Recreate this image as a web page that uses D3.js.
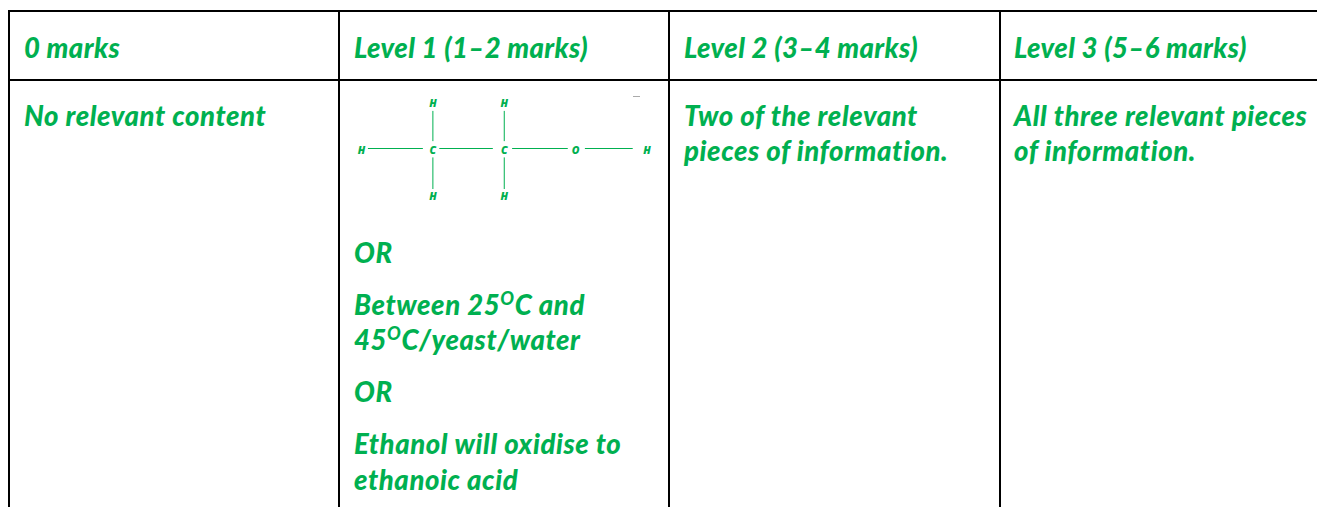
<!DOCTYPE html>
<html><head><meta charset="utf-8">
<script src="https://cdnjs.cloudflare.com/ajax/libs/d3/7.8.5/d3.min.js"></script>
<style>html,body{margin:0;padding:0;background:#fff;overflow:hidden}svg{display:block}
text{font-family:Lato,"Open Sans",sans-serif;font-weight:900;font-style:italic;fill:#00b050}
text.a{font-family:"Open Sans",sans-serif;font-weight:800}</style>
</head><body><svg id="c" width="1317" height="507"></svg>
<script>
const headers = ["0 marks","Level 1 (1–2 marks)","Level 2 (3–4 marks)","Level 3 (5–6 marks)"];
const columnEdges = [9,339,669,1000];
const textStarts = [24,354,684,1014];
const rowEdges = [11,80];
const bodyLines = [
 {col:0,base:126,parts:["No relevant content"]},
 {col:1,base:263,parts:["OR"]},
 {col:1,base:315,parts:["Between 25","O","C and"]},
 {col:1,base:350,parts:["45","O","C/yeast/water"]},
 {col:1,base:402,parts:["OR"]},
 {col:1,base:454,parts:["Ethanol will oxidise to"]},
 {col:1,base:490,parts:["ethanoic acid"]},
 {col:2,base:126,parts:["Two of the relevant"]},
 {col:2,base:161,parts:["pieces of information."]},
 {col:3,base:126,parts:["All three relevant pieces"]},
 {col:3,base:161,parts:["of information."]}
];
const atoms = [
 ["H",1,0],["H",2,0],
 ["H",0,1],["C",1,1],["C",2,1],["O",3,1],["H",4,1],
 ["H",1,2],["H",2,2]
];
const bonds = [[0,1,0.09,0.86],[1,2,0.09,0.84],[2,3,0.11,0.89],[3,4,0.13,0.80]];
const vbonds = [[1,0,1],[2,0,1],[1,1,2],[2,1,2]];

const svg = d3.select("#c");
const W = 1317, H = 507;
const line = (x1,y1,x2,y2,c,w)=>svg.append("line").attr("x1",x1).attr("y1",y1).attr("x2",x2).attr("y2",y2).attr("stroke",c).attr("stroke-width",w);

rowEdges.forEach(y=>line(8,y,W,y,"#000",2));
columnEdges.forEach(x=>line(x,10,x,H,"#000",2));

const fs = 27.5, lsHead = 0.4, lsBody = 0.6;
svg.selectAll("text.h").data(headers).join("text").attr("class","h")
 .attr("x",(d,i)=>textStarts[i]).attr("y",58).attr("font-size",fs).attr("letter-spacing",lsHead).text(d=>d);

bodyLines.forEach(l=>{
  const t = svg.append("text").attr("x",textStarts[l.col]).attr("y",l.base).attr("font-size",fs).attr("letter-spacing",lsBody);
  l.parts.forEach((p,i)=>{
    const s = t.append("tspan").text(p);
    if(l.parts.length===3 && i===1) s.attr("font-size",fs*0.66).attr("dy",-10);
    if(l.parts.length===3 && i===2) s.attr("dy",10);
  });
});

// ethanol structure
const mx = d3.scaleLinear().domain([0,4]).range([361.5,647]);
const my = d3.scaleLinear().domain([0,2]).range([103,196]);
const green = "#00b050";
bonds.forEach(([a,b,f0,f1])=>{
  const s = d3.scaleLinear().domain([0,1]).range([mx(a),mx(b)]);
  line(s(f0),148.5,s(f1),148.5,green,1);
});
vbonds.forEach(([c,a,b])=>{
  const s = d3.scaleLinear().domain([0,1]).range([my(a),my(b)]);
  line(mx(c),s(0.17),mx(c),s(a===0?0.82:0.85),green,1);
});
svg.selectAll("text.a").data(atoms).join("text").attr("class","a")
 .attr("x",d=>mx(d[1])).attr("y",d=>my(d[2])+4).attr("text-anchor","middle")
 .attr("font-size",10.5).text(d=>d[0]);
svg.append("line").attr("x1",633).attr("x2",640).attr("y1",96.5).attr("y2",96.5).attr("stroke","#aaa").attr("stroke-width",1);
</script></body></html>
